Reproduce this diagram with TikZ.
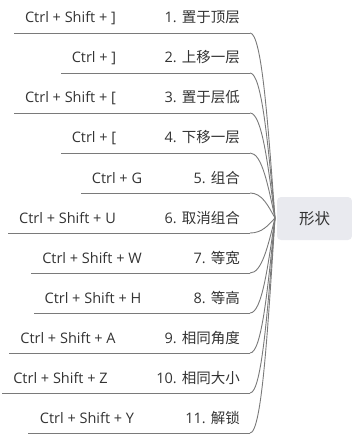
\documentclass[tikz,border=0pt]{standalone}
\usepackage{fontspec}
\setmainfont{Open Sans}
\newfontfamily\cjk{Noto Sans CJK SC}
\definecolor{txt}{HTML}{333333}
\definecolor{ln}{HTML}{7A7A7A}
\definecolor{boxfill}{HTML}{E9EAEF}
\begin{document}
\begin{tikzpicture}[x=1pt,y=-1pt,
  keytext/.style={anchor=base,inner sep=0pt,text=txt,font=\fontsize{14.5}{17}\selectfont},
  labeltext/.style={anchor=base east,inner sep=0pt,text=txt,font=\fontsize{14.5}{17}\selectfont},
  centerbox/.style={fill=boxfill,rounded corners=4pt,minimum width=75pt,minimum height=43pt,inner sep=0pt,text=txt,font=\cjk\fontsize{15.5}{18}\selectfont},
  underline/.style={draw=ln,line width=0.9pt},
  branch/.style={draw=ln,line width=0.9pt}]
\useasboundingbox (0,0) rectangle (352,438);
\node[centerbox] (c0) at (314.5,218.5) {形状};
\coordinate (hub) at (275,218);
\foreach \i/\key/\kx/\ls/\lab in {
  1/{Ctrl + Shift + ]}/70.5/14/{1.\hspace{5pt}{\cjk 置于顶层}},
  2/{Ctrl + ]}/94/61/{2.\hspace{5pt}{\cjk 上移一层}},
  3/{Ctrl + Shift + [}/70.5/14/{3.\hspace{5pt}{\cjk 置于层低}},
  4/{Ctrl + [}/94/61/{4.\hspace{5pt}{\cjk 下移一层}},
  5/{Ctrl + G}/117/81/{5.\hspace{5pt}{\cjk 组合}},
  6/{Ctrl + Shift + U}/67.5/8/{6.\hspace{5pt}{\cjk 取消组合}},
  7/{Ctrl + Shift + W}/92/31/{7.\hspace{5pt}{\cjk 等宽}},
  8/{Ctrl + Shift + H}/93/34/{8.\hspace{5pt}{\cjk 等高}},
  9/{Ctrl + Shift + A}/68/9/{9.\hspace{5pt}{\cjk 相同角度}},
  10/{Ctrl + Shift + Z}/60.5/2/{10.\hspace{5pt}{\cjk 相同大小}},
  11/{Ctrl + Shift + Y}/87/28/{11.\hspace{5pt}{\cjk 解锁}}}{
  \pgfmathsetmacro{\yl}{33+40*(\i-1)}
  \pgfmathsetmacro{\yb}{\yl-10}
  \pgfmathsetmacro{\yc}{218+(\yl-218)*0.5}
  \node[keytext] (k\i) at (\kx,\yb) {\key};
  \node[labeltext] (l\i) at (240,\yb) {\lab};
  \coordinate (s\i) at (\ls,\yl);
  \coordinate (e\i) at (250,\yl);
  \draw[underline] (s\i) -- (e\i);
  \draw[branch] (e\i) .. controls (262,\yl) and (268,\yc) .. (hub);
}
\end{tikzpicture}
\end{document}
